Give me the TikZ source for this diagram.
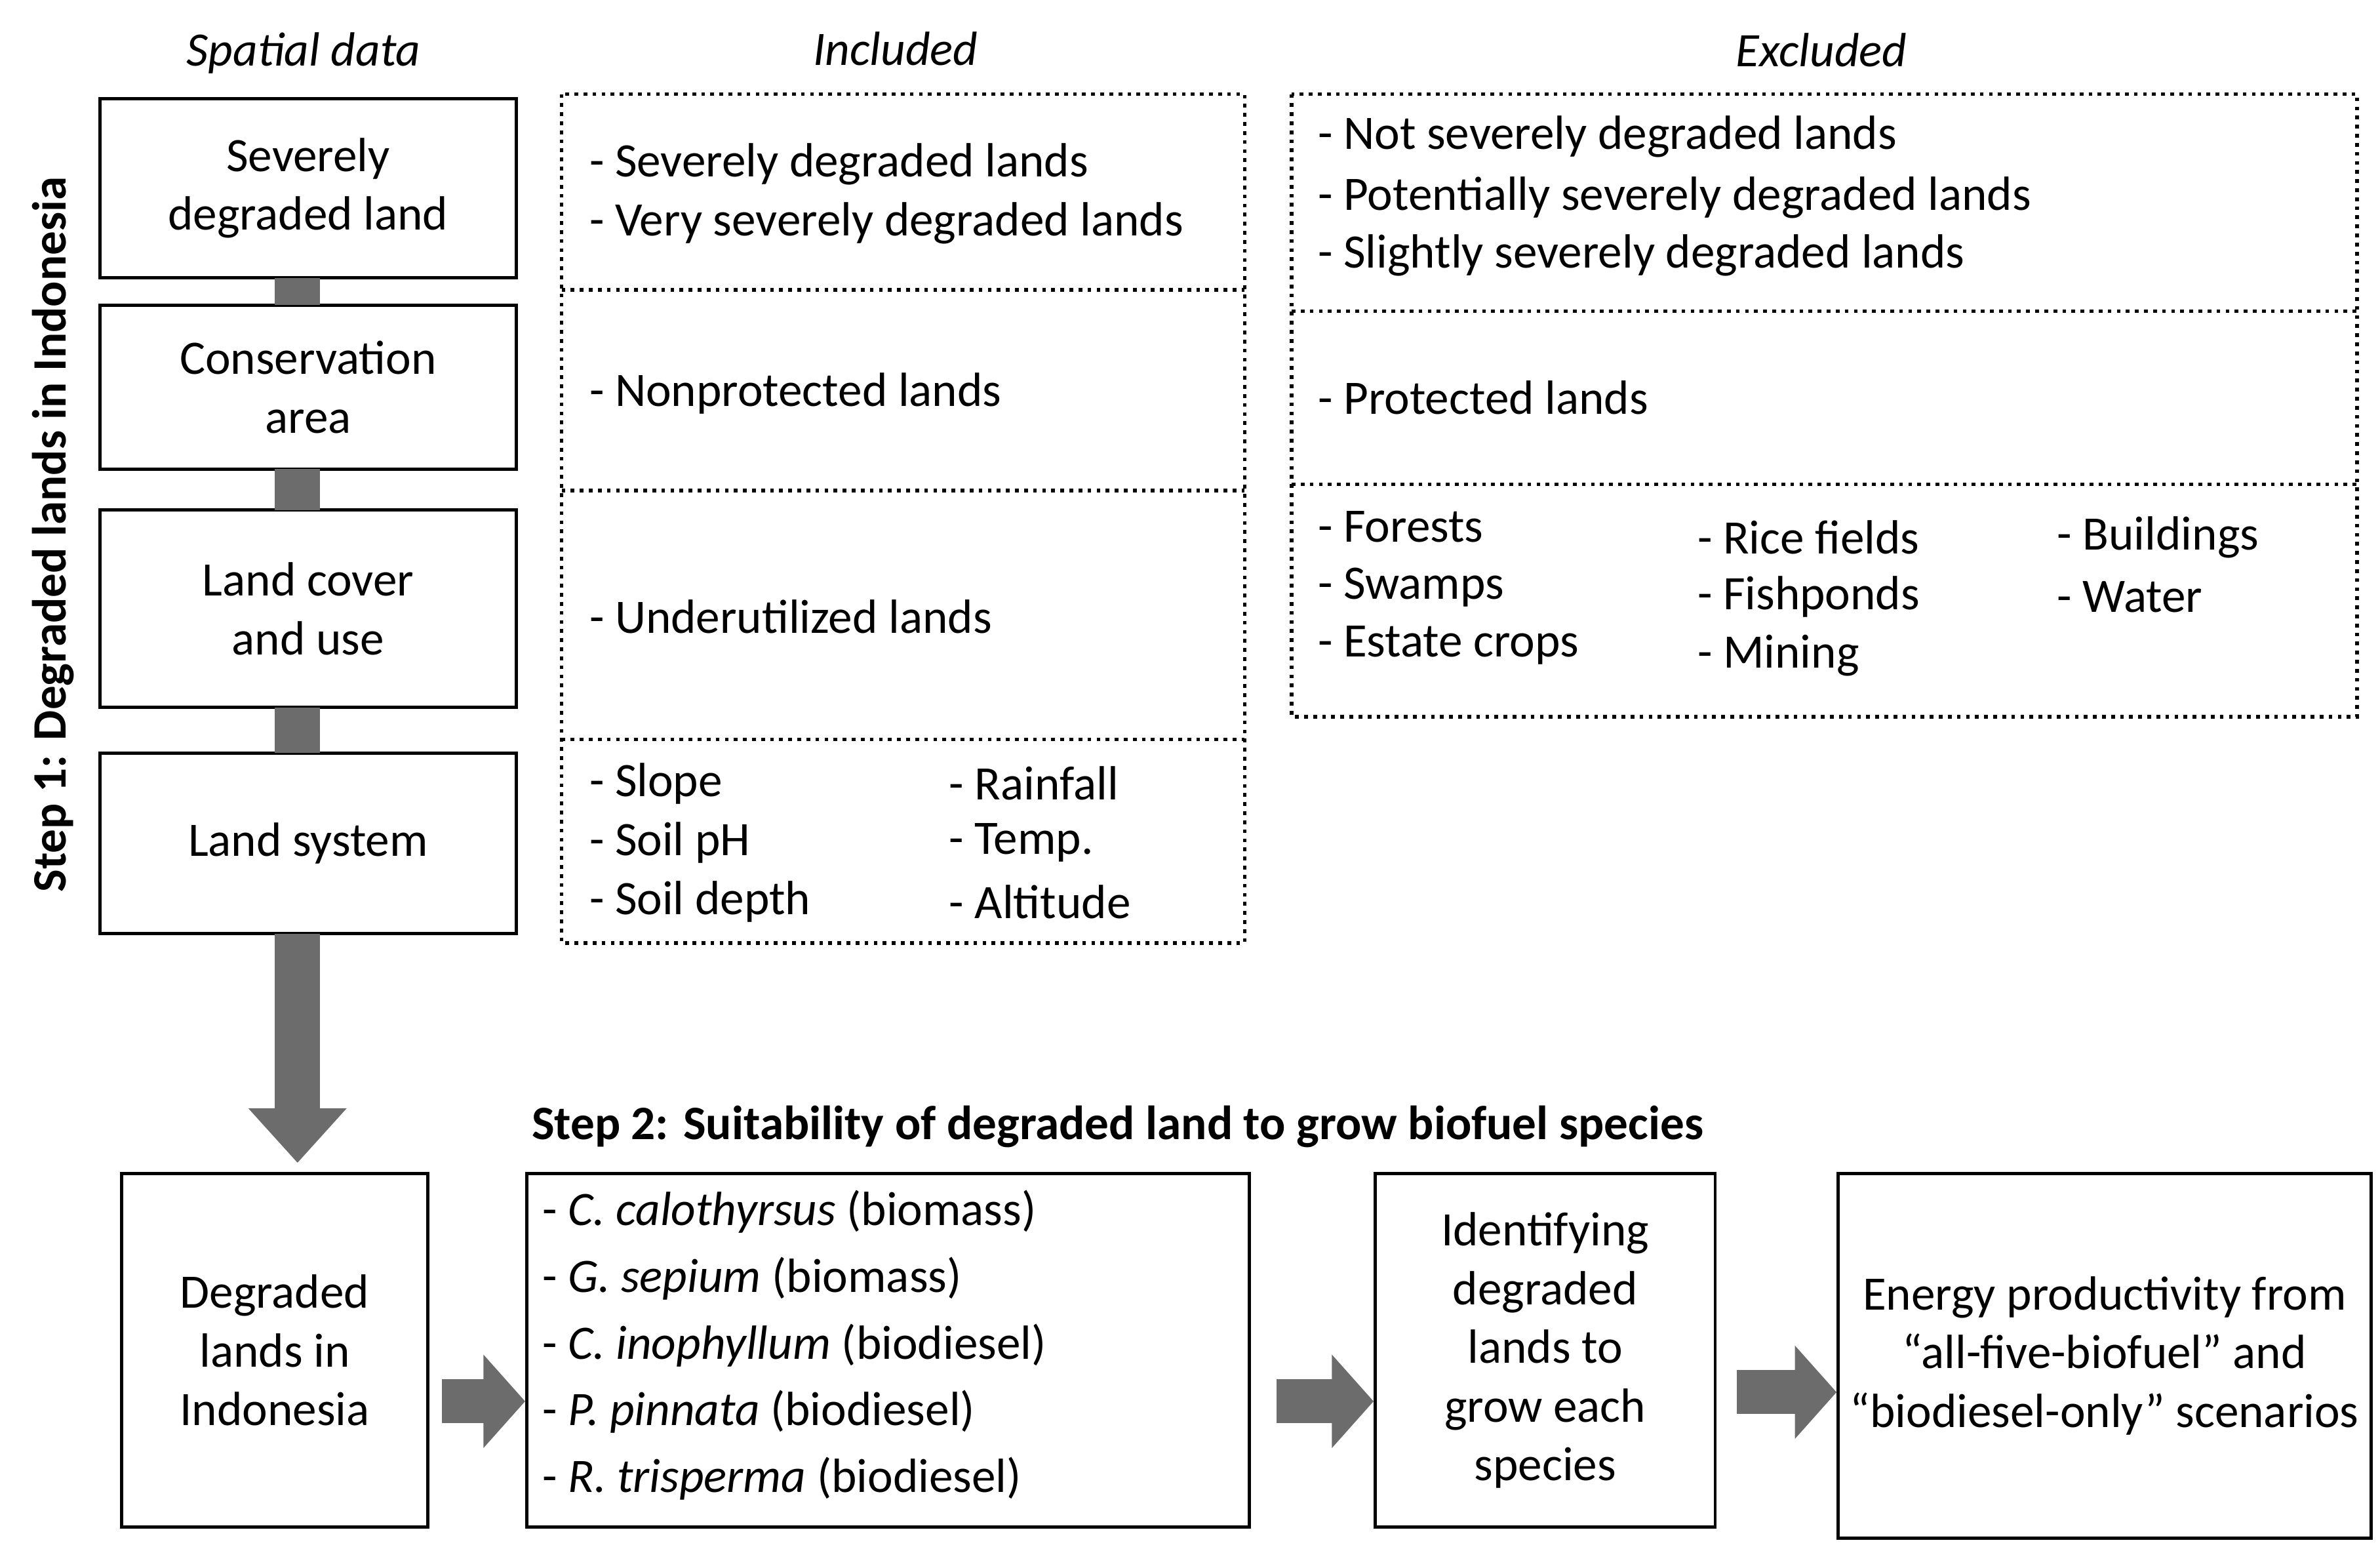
\documentclass[tikz,border=0pt]{standalone}
\usepackage{fontspec}
\setmainfont{Carlito}
\usetikzlibrary{arrows.meta}
\begin{document}
\begin{tikzpicture}[x=0.02cm,y=-0.02cm,
  every node/.style={font=\fontsize{18}{22}\selectfont},
  sbox/.style={draw,line width=1.2pt,align=center,inner sep=0pt},
  dbox/.style={draw,line width=1.4pt,dotted},
  lt/.style={anchor=west,inner sep=0pt},
  conn/.style={draw=gray!85!black,line width=0.6cm},
  barrow/.style={draw=gray!85!black,line width=0.6cm,-{Triangle[length=0.72cm,width=1.25cm]}},
  sarrow/.style={draw=gray!85!black,line width=0.58cm,-{Triangle[length=0.55cm,width=1.2cm]}}]
\useasboundingbox (0,0) rectangle (1568,1020);
% left boxes
\node[sbox,minimum width=5.48cm,minimum height=2.36cm] (s1) at (203,124) {Severely\\degraded land};
\node[sbox,minimum width=5.48cm,minimum height=2.16cm] (s2) at (203,255) {Conservation\\area};
\node[sbox,minimum width=5.48cm,minimum height=2.6cm] (s3) at (203,401) {Land cover\\and use};
\node[sbox,minimum width=5.48cm,minimum height=2.38cm] (s4) at (203,555.5) {Land system};
\draw[conn] (196,183) -- (196,201);
\draw[conn] (196,309) -- (196,336);
\draw[conn] (196,466) -- (196,496);
\node[sbox,minimum width=4.04cm,minimum height=4.66cm] (b1) at (181,889.5) {Degraded\\lands in\\Indonesia};
\draw[barrow] (196,615) -- (196,766);
\node[font=\fontsize{18}{22}\selectfont\bfseries,rotate=90] (st1) at (35,352) {Step 1: Degraded lands in Indonesia};
\node[font=\fontsize{18}{22}\selectfont\itshape] (h1) at (200,35) {Spatial data};
\node[font=\fontsize{18}{22}\selectfont\itshape] (h2) at (590,32) {Included};
\node[font=\fontsize{18}{22}\selectfont\itshape] (h3) at (1200,33) {Excluded};
% included
\draw[dbox] (370,62) rectangle (820,621);
\draw[dbox] (370,191) -- (820,191) (370,323) -- (820,323) (370,487) -- (820,487);
\node[lt] (i1) at (388,108) {- Severely degraded lands};
\node[lt] (i2) at (388,147) {- Very severely degraded lands};
\node[lt] (i3) at (388,259) {- Nonprotected lands};
\node[lt] (i4) at (388,406) {- Underutilized lands};
\node[lt] (i5) at (388,516) {- Slope};
\node[lt] (i6) at (388,555) {- Soil pH};
\node[lt] (i7) at (388,594) {- Soil depth};
\node[lt] (i8) at (625,516) {- Rainfall};
\node[lt] (i9) at (625,555) {- Temp.};
\node[lt] (i10) at (625,594) {- Altitude};
% excluded
\draw[dbox] (851,62) rectangle (1553,472);
\draw[dbox] (851,205) -- (1553,205) (851,319) -- (1553,319);
\node[lt] (e1) at (868,90) {- Not severely degraded lands};
\node[lt] (e2) at (868,130) {- Potentially severely degraded lands};
\node[lt] (e3) at (868,168) {- Slightly severely degraded lands};
\node[lt] (e4) at (868,262) {- Protected lands};
\node[lt] (e5) at (868,347) {- Forests};
\node[lt] (e6) at (868,387) {- Swamps};
\node[lt] (e7) at (868,425) {- Estate crops};
\node[lt] (e8) at (1118,354) {- Rice fields};
\node[lt] (e9) at (1118,393) {- Fishponds};
\node[lt] (e10) at (1118,432) {- Mining};
\node[lt] (e11) at (1355,354) {- Buildings};
\node[lt] (e12) at (1355,393) {- Water};
% step 2
\node[lt,font=\fontsize{18}{22}\selectfont\bfseries] (st2) at (350,742) {Step 2: Suitability of degraded land to grow biofuel species};
\node[sbox,minimum width=9.52cm,minimum height=4.66cm] (b2) at (585,889.5) {};
\node[lt] (p1) at (357,798) {- \textit{C. calothyrsus} (biomass)};
\node[lt] (p2) at (357,842) {- \textit{G. sepium} (biomass)};
\node[lt] (p3) at (357,886) {- \textit{C. inophyllum} (biodiesel)};
\node[lt] (p4) at (357,930) {- \textit{P. pinnata} (biodiesel)};
\node[lt] (p5) at (357,974) {- \textit{R. trisperma} (biodiesel)};
\node[sbox,minimum width=4.48cm,minimum height=4.66cm] (b3) at (1018,889.5) {Identifying\\degraded\\lands to\\grow each\\species};
\node[sbox,minimum width=7.02cm,minimum height=4.8cm] (b4) at (1386.5,893) {Energy productivity from\\“all-five-biofuel” and\\“biodiesel-only” scenarios};
\draw[sarrow] (b1.east|-0,923) ++(8,0) -- (b2.west|-0,923);
\draw[sarrow] (b2.east|-0,923) ++(17,0) -- (b3.west|-0,923);
\draw[sarrow] (b3.east|-0,917) ++(13,0) -- (b4.west|-0,917);
\end{tikzpicture}
\end{document}
